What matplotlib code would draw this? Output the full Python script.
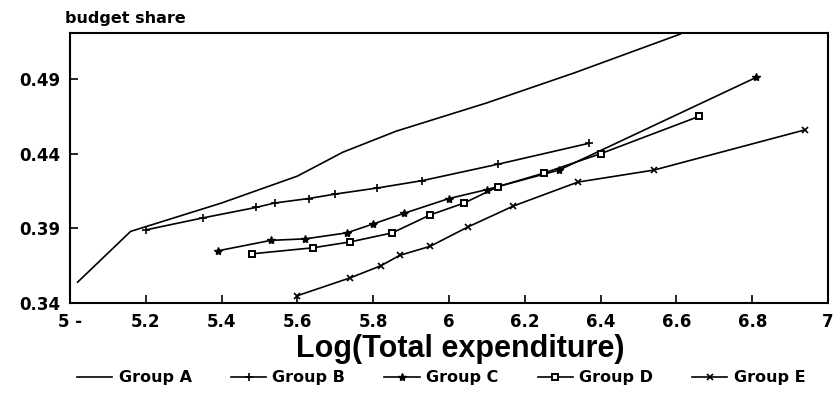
import matplotlib.pyplot as plt
import numpy as np

plt.rcParams['font.family'] = ['DejaVu Sans']

# log total expenditure (x) and budget share (y) per group
group_a_x = [5.02, 5.16, 5.40, 5.60, 5.72, 5.86, 6.10, 6.33, 6.61]
group_a_y = [0.354, 0.388, 0.407, 0.425, 0.441, 0.455, 0.474, 0.494, 0.520]

group_b_x = [5.20, 5.35, 5.49, 5.54, 5.63, 5.70, 5.81, 5.93, 6.13, 6.37]
group_b_y = [0.389, 0.397, 0.404, 0.407, 0.410, 0.413, 0.417, 0.422, 0.433, 0.447]

group_c_x = [5.39, 5.53, 5.62, 5.73, 5.80, 5.88, 6.00, 6.10, 6.29, 6.81]
group_c_y = [0.375, 0.382, 0.383, 0.387, 0.393, 0.400, 0.410, 0.416, 0.429, 0.491]

group_d_x = [5.48, 5.64, 5.74, 5.85, 5.95, 6.04, 6.13, 6.25, 6.40, 6.66]
group_d_y = [0.373, 0.377, 0.381, 0.387, 0.399, 0.407, 0.418, 0.427, 0.440, 0.465]

group_e_x = [5.60, 5.74, 5.82, 5.87, 5.95, 6.05, 6.17, 6.34, 6.54, 6.94]
group_e_y = [0.345, 0.357, 0.365, 0.372, 0.378, 0.391, 0.405, 0.421, 0.429, 0.456]

x_ticks = [5, 5.2, 5.4, 5.6, 5.8, 6, 6.2, 6.4, 6.6, 6.8, 7]
x_tick_labels = ['5 -', '5.2', '5.4', '5.6', '5.8', '6', '6.2', '6.4', '6.6', '6.8', '7']
y_ticks = [0.34, 0.39, 0.44, 0.49]
y_tick_labels = ['0.34', '0.39', '0.44', '0.49']

fig = plt.figure(figsize=(8.39, 4.08), dpi=100)
ax = fig.add_axes([0.0834, 0.257, 0.9036, 0.662])

lw = 1.2
ax.plot(group_a_x, group_a_y, color='black', lw=lw, label='Group A')
ax.plot(group_b_x, group_b_y, color='black', lw=lw, marker='+', ms=6, mew=1.2, label='Group B')
ax.plot(group_c_x, group_c_y, color='black', lw=lw, marker='*', ms=6, label='Group C')
ax.plot(group_d_x, group_d_y, color='black', lw=lw, marker='s', ms=4.5, mfc='white', mew=1.4, label='Group D')
ax.plot(group_e_x, group_e_y, color='black', lw=lw, marker='x', ms=5, mew=1.2, label='Group E')

ax.set_xlim(5, 7)
ax.set_ylim(0.34, 0.5207)
ax.set_xticks(x_ticks)
ax.set_xticklabels(x_tick_labels)
ax.set_yticks(y_ticks)
ax.set_yticklabels(y_tick_labels)
ax.tick_params(direction='in', length=6, width=1.2, labelsize=12, pad=7)
for lab in ax.get_xticklabels() + ax.get_yticklabels():
    lab.set_fontweight('bold')
for sp in ax.spines.values():
    sp.set_linewidth(1.5)

ax.set_xlabel('Log(Total expenditure)', fontsize=22, fontweight='bold',
              family='Liberation Sans', labelpad=2)
ax.xaxis.set_label_coords(0.515, -0.115)
fig.text(0.0775, 0.955, 'budget share', fontsize=11.5, fontweight='bold', ha='left', va='center')

fig.legend(loc='center', bbox_to_anchor=(0.526, 0.074), ncol=5, frameon=False,
           prop={'weight': 'bold', 'size': 11.5}, handlelength=2.2,
           columnspacing=2.45, handletextpad=0.4)

fig.savefig('out.png', dpi=100)
